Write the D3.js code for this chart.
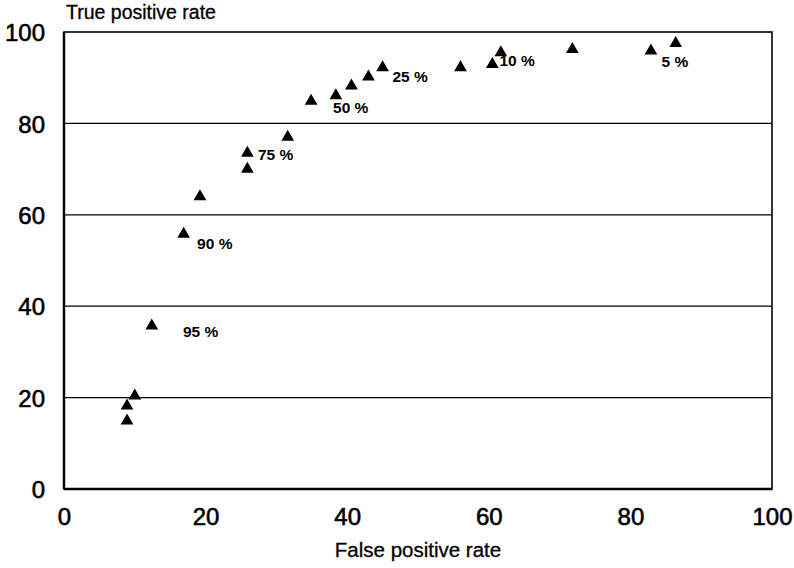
<!DOCTYPE html>
<html>
<head>
<meta charset="utf-8">
<script src="https://cdn.jsdelivr.net/npm/d3@7"></script>
<style>
  body { margin: 0; background: #fff; }
  svg text { font-family: "Liberation Sans", Arial, sans-serif; fill: #000; }
</style>
</head>
<body>
<div id="chart"></div>
<script>
// ROC points (false positive rate, true positive rate)
var fpr = [8.9, 8.9, 10.0, 12.4, 16.9, 19.2, 25.9, 25.9, 31.6, 34.9, 38.4, 40.6, 43.0, 45.0, 56.0, 60.5, 61.7, 71.8, 82.9, 86.4];
var tpr = [14.9, 18.2, 20.4, 35.7, 55.8, 64.0, 70.0, 73.5, 77.0, 84.9, 86.1, 88.2, 90.2, 92.2, 92.2, 92.9, 95.5, 96.2, 95.9, 97.5];

// threshold labels and where they sit (data units)
var labelText = ["95 %", "90 %", "75 %", "50 %", "25 %", "10 %", "5 %"];
var labelX = [16.8, 18.8, 27.4, 38.0, 46.4, 61.5, 84.4];
var labelY = [34.5, 53.7, 73.2, 83.5, 90.2, 93.8, 93.5];

var xTicks = [0, 20, 40, 60, 80, 100];
var yTicks = [0, 20, 40, 60, 80, 100];

var margin = { top: 32, right: 22, bottom: 79, left: 64 };
var width = 794 - margin.left - margin.right,
    height = 568 - margin.top - margin.bottom;

var svg = d3.select("#chart").append("svg")
    .attr("width", 794)
    .attr("height", 568)
    .append("g")
    .attr("transform", "translate(" + margin.left + "," + margin.top + ")");

var x = d3.scaleLinear().domain([0, 100]).range([0, width]);
var y = d3.scaleLinear().domain([0, 100]).range([height, 0]);

// horizontal grid lines
svg.selectAll(".grid")
    .data(yTicks.filter(d => d > 0 && d < 100))
    .enter().append("line")
    .attr("class", "grid")
    .attr("x1", 0).attr("x2", width)
    .attr("y1", d => y(d)).attr("y2", d => y(d))
    .attr("stroke", "#000")
    .attr("stroke-width", 1.2);

// frame
svg.append("rect")
    .attr("x", 0).attr("y", 0)
    .attr("width", width).attr("height", height)
    .attr("fill", "none")
    .attr("stroke", "#000")
    .attr("stroke-width", 1.6);

svg.append("line")
    .attr("x1", 0).attr("x2", 0).attr("y1", 0).attr("y2", height)
    .attr("stroke", "#000").attr("stroke-width", 2.4);
svg.append("line")
    .attr("x1", 0).attr("x2", width).attr("y1", height).attr("y2", height)
    .attr("stroke", "#000").attr("stroke-width", 2.4);

// axes (labels only, no tick marks)
var xAxis = d3.axisBottom(x).tickValues(xTicks).tickSize(0).tickPadding(19);
var yAxis = d3.axisLeft(y).tickValues(yTicks).tickSize(0).tickPadding(19);

var gx = svg.append("g")
    .attr("transform", "translate(0," + height + ")")
    .call(xAxis);
var gy = svg.append("g").call(yAxis);

[gx, gy].forEach(g => {
    g.select(".domain").remove();
    g.selectAll("text")
        .style("font-family", "'Liberation Sans', Arial, sans-serif")
        .style("font-size", "24px")
        .attr("fill", "#000")
        .attr("stroke", "#000")
        .attr("stroke-width", 0.6);
});
gy.selectAll("text").attr("dy", "0.36em");

// axis titles
svg.append("text")
    .attr("x", 2)
    .attr("y", -13)
    .style("font-size", "19.5px")
    .attr("stroke", "#000")
    .attr("stroke-width", 0.3)
    .text("True positive rate");

svg.append("text")
    .attr("x", width / 2)
    .attr("y", height + 68)
    .attr("text-anchor", "middle")
    .style("font-size", "20.5px")
    .attr("stroke", "#000")
    .attr("stroke-width", 0.3)
    .text("False positive rate");

// points
var points = fpr.map((d, i) => ({ fp: d, tp: tpr[i] }));

svg.selectAll(".pt")
    .data(points)
    .enter().append("path")
    .attr("class", "pt")
    .attr("d", d3.symbol().type(d3.symbolTriangle).size(70))
    .attr("transform", d => "translate(" + x(d.fp) + "," + y(d.tp) + ")")
    .attr("fill", "#000");

// threshold labels
var labels = labelText.map((t, i) => ({ t: t, lx: labelX[i], ly: labelY[i] }));

svg.selectAll(".lbl")
    .data(labels)
    .enter().append("text")
    .attr("class", "lbl")
    .attr("x", d => x(d.lx))
    .attr("y", d => y(d.ly))
    .attr("dy", "0.36em")
    .style("font-size", "15.5px")
    .style("font-weight", "bold")
    .text(d => d.t);
</script>
</body>
</html>
